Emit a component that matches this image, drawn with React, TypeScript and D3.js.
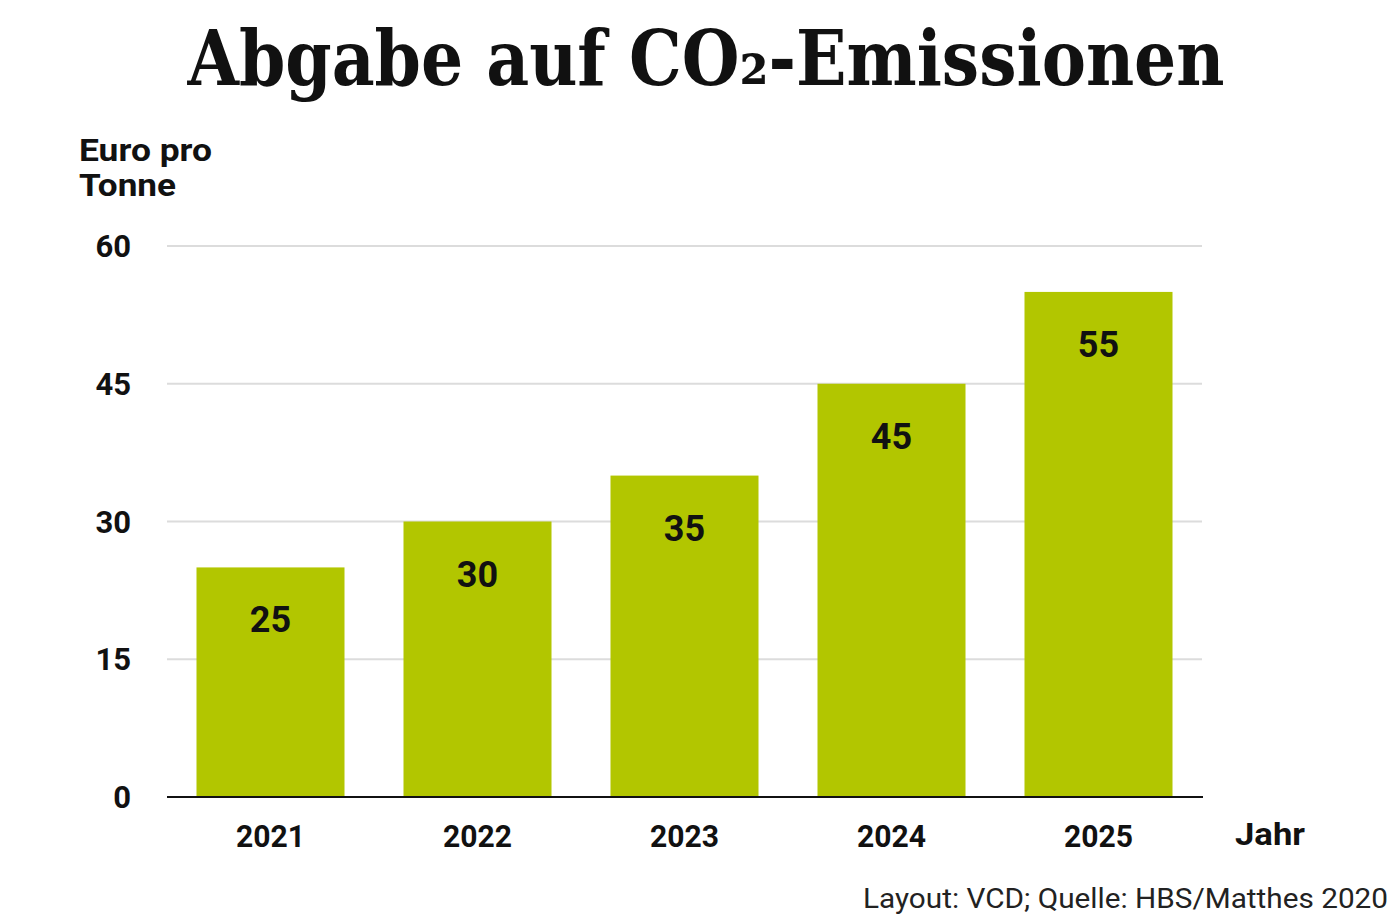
import React from "react";
import * as d3 from "d3";

const years = ["2021", "2022", "2023", "2024", "2025"];
const values = [25, 30, 35, 45, 55];
const yTicks = [0, 15, 30, 45, 60];

const W = 1400;
const H = 924;

export default function App() {
  const x = d3.scaleBand<string>().domain(years).range([167, 1202]).paddingInner(0.285).paddingOuter(0.1425);
  const y = d3.scaleLinear().domain([0, 60]).range([797, 246]);
  const font = "Roboto, 'Noto Sans', sans-serif";
  return (
    <svg width={W} height={H} style={{ position: "absolute", left: 0, top: 0, background: "#fff" }}>
      <text x={706} y={85} textAnchor="middle" fontFamily="'DejaVu Serif Condensed', 'DejaVu Serif', serif" fontWeight="bold" fontSize={76} textLength={1037} lengthAdjust="spacingAndGlyphs" fill="#111">
        Abgabe auf CO₂-Emissionen
      </text>
      <text x={79} y={161} fontFamily={font} fontWeight="bold" fontSize={32} textLength={133} lengthAdjust="spacingAndGlyphs" fill="#111">Euro pro</text>
      <text x={79} y={196} fontFamily={font} fontWeight="bold" fontSize={32} textLength={97} lengthAdjust="spacingAndGlyphs" fill="#111">Tonne</text>
      {yTicks.map((t) => (
        <g key={t}>
          {t > 0 && <line x1={167} x2={1202} y1={y(t)} y2={y(t)} stroke="#dcdcdc" strokeWidth={2} />}
          <text x={131} y={y(t) + 11} textAnchor="end" fontFamily={font} fontWeight="bold" fontSize={31} fill="#111">{t}</text>
        </g>
      ))}
      {years.map((yr, i) => (
        <g key={yr}>
          <rect x={x(yr)} y={y(values[i])} width={x.bandwidth()} height={y(0) - y(values[i])} fill="#b2c600" />
          <text x={(x(yr) as number) + x.bandwidth() / 2} y={y(values[i]) + 65} textAnchor="middle" fontFamily={font} fontWeight="bold" fontSize={36} fill="#111">{values[i]}</text>
          <text x={(x(yr) as number) + x.bandwidth() / 2} y={847} textAnchor="middle" fontFamily={font} fontWeight="bold" fontSize={31} textLength={69} lengthAdjust="spacingAndGlyphs" fill="#111">{yr}</text>
        </g>
      ))}
      <line x1={167} x2={1203} y1={y(0)} y2={y(0)} stroke="#111" strokeWidth={2} />
      <text x={1235} y={845} fontFamily={font} fontWeight="bold" fontSize={32} textLength={70} lengthAdjust="spacingAndGlyphs" fill="#111">Jahr</text>
      <text x={1388} y={908} textAnchor="end" fontFamily={font} fontSize={28} textLength={525} lengthAdjust="spacingAndGlyphs" fill="#222">Layout: VCD; Quelle: HBS/Matthes 2020</text>
    </svg>
  );
}
